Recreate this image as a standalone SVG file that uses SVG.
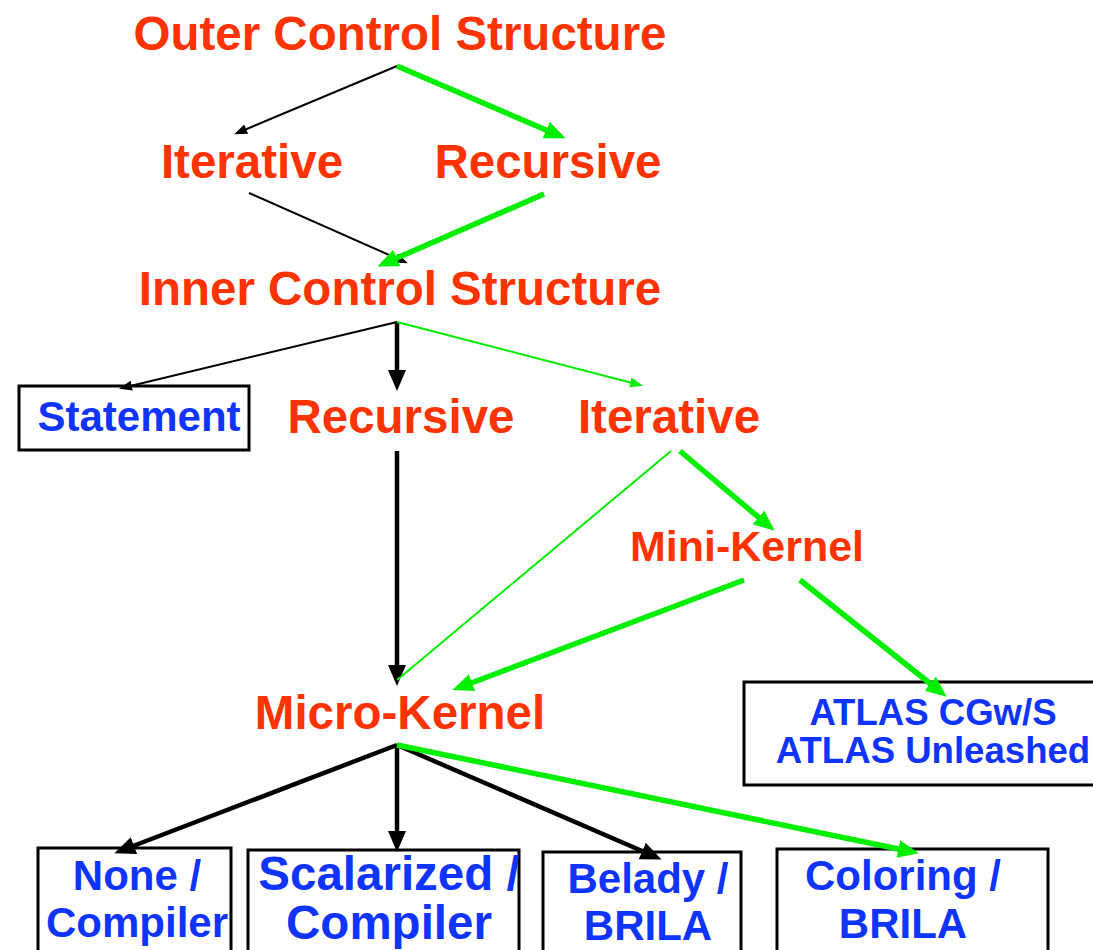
<svg xmlns="http://www.w3.org/2000/svg" width="1093" height="950" viewBox="0 0 1093 950">
<style>
.r{font-family:"Liberation Sans",Arial,sans-serif;font-weight:bold;fill:#ff3300;text-anchor:middle;font-size:47.5px}
.b{font-family:"Liberation Sans",Arial,sans-serif;font-weight:bold;fill:#1034ff;text-anchor:middle;font-size:42px}
.box{fill:#fff;stroke:#000;stroke-width:3}
.k1{stroke:#000;stroke-width:2;fill:none}
.k2{stroke:#000;stroke-width:4.5;fill:none}
.g1{stroke:#00ee00;stroke-width:2;fill:none}
.g2{stroke:#00ee00;stroke-width:5.5;fill:none}
</style>
<defs>
<marker id="kb" markerUnits="userSpaceOnUse" markerWidth="22" markerHeight="20" refX="15" refY="9" orient="auto"><path d="M0,0 L21,9 L0,18 z" fill="#000"/></marker>
<marker id="gb" markerUnits="userSpaceOnUse" markerWidth="22" markerHeight="20" refX="15" refY="9" orient="auto"><path d="M0,0 L21,9 L0,18 z" fill="#00ee00"/></marker>
<marker id="ks" markerUnits="userSpaceOnUse" markerWidth="14" markerHeight="12" refX="10" refY="5" orient="auto"><path d="M0,0 L13,5 L0,10 z" fill="#000"/></marker>
<marker id="gs" markerUnits="userSpaceOnUse" markerWidth="14" markerHeight="12" refX="10" refY="5" orient="auto"><path d="M0,0 L13,5 L0,10 z" fill="#00ee00"/></marker>
</defs>
<g id="outer"><text class="r" x="400" y="50">Outer Control Structure</text></g>
<g id="iter1"><text class="r" x="252" y="178">Iterative</text></g>
<g id="rec1"><text class="r" x="548" y="178">Recursive</text></g>
<g id="inner"><text class="r" x="400" y="305">Inner Control Structure</text></g>
<g id="statement"><rect class="box" x="19" y="386" width="230" height="64"/><text class="b" x="139" y="431">Statement</text></g>
<g id="rec2"><text class="r" x="401" y="433">Recursive</text></g>
<g id="iter2"><text class="r" x="669" y="433">Iterative</text></g>
<g id="mini"><text class="r" x="747" y="561" style="font-size:43px">Mini-Kernel</text></g>
<g id="micro"><text class="r" x="400" y="729">Micro-Kernel</text></g>
<g id="atlas"><rect class="box" x="744" y="682" width="360" height="103"/><text class="b" x="933" y="725" style="font-size:36.6px">ATLAS CGw/S</text><text class="b" x="933" y="763" style="font-size:36.6px">ATLAS Unleashed</text></g>
<g id="none"><rect class="box" x="38" y="848" width="193" height="110"/><text class="b" x="137" y="890">None /</text><text class="b" x="137" y="937">Compiler</text></g>
<g id="scalar"><rect class="box" x="248" y="850" width="271" height="110"/><text class="b" x="389" y="890" style="font-size:47.5px">Scalarized /</text><text class="b" x="389" y="939" style="font-size:47.5px">Compiler</text></g>
<g id="belady"><rect class="box" x="543" y="852" width="198" height="110"/><text class="b" x="648" y="893">Belady /</text><text class="b" x="648" y="940">BRILA</text></g>
<g id="coloring"><rect class="box" x="777" y="849" width="271" height="110"/><text class="b" x="903" y="890">Coloring /</text><text class="b" x="903" y="938">BRILA</text></g>
<g id="connectors">
<line class="k1" x1="397" y1="66" x2="237" y2="133" marker-end="url(#ks)"/>
<line class="g2" x1="397" y1="66" x2="560" y2="136" marker-end="url(#gb)"/>
<line class="k1" x1="249" y1="193" x2="405" y2="262" marker-end="url(#ks)"/>
<line class="g2" x1="544" y1="194" x2="383" y2="264" marker-end="url(#gb)"/>
<line class="k1" x1="397" y1="322" x2="122" y2="388" marker-end="url(#ks)"/>
<line class="k2" x1="397" y1="322" x2="397" y2="385" marker-end="url(#kb)"/>
<line class="g1" x1="397" y1="322" x2="640" y2="385" marker-end="url(#gs)"/>
<line class="k2" x1="397" y1="451" x2="397" y2="680" marker-end="url(#kb)"/>
<line class="g1" x1="671" y1="451" x2="397" y2="680"/>
<line class="g2" x1="680" y1="451" x2="770" y2="527" marker-end="url(#gb)"/>
<line class="g2" x1="744" y1="580" x2="458" y2="688" marker-end="url(#gb)"/>
<line class="g2" x1="800" y1="580" x2="942" y2="693" marker-end="url(#gb)"/>
<line class="k2" x1="397" y1="745" x2="120" y2="851" marker-end="url(#kb)"/>
<line class="k2" x1="397" y1="745" x2="397" y2="846" marker-end="url(#kb)"/>
<line class="k2" x1="397" y1="745" x2="656" y2="857" marker-end="url(#kb)"/>
<line class="g2" x1="397" y1="745" x2="913" y2="852" marker-end="url(#gb)"/>
</g>
</svg>
